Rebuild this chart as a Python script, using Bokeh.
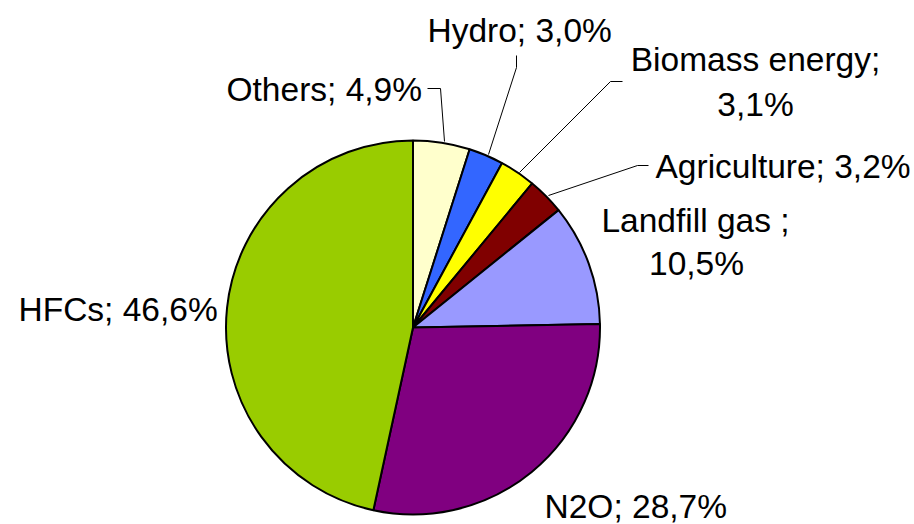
import numpy as np
from bokeh.plotting import figure
from bokeh.models import Range1d
from bokeh.core.properties import value
from bokeh.embed import file_html
from bokeh.resources import INLINE

# ---- data ----
categories = ["Others", "Hydro", "Biomass energy", "Agriculture", "Landfill gas ", "N2O", "HFCs"]
shares = [4.9, 3.0, 3.1, 3.2, 10.5, 28.7, 46.6]
colors = ["#FFFFCC", "#3366FF", "#FFFF00", "#800000", "#9999FF", "#800080", "#99CC00"]
label_texts = ["Others; 4,9%", "Hydro; 3,0%", "Biomass energy;\n3,1%", "Agriculture; 3,2%",
               "Landfill gas ;\n10,5%", "N2O; 28,7%", "HFCs; 46,6%"]

W, H = 914, 524


def Y(py):
    # page y (from top) -> data y (from bottom)
    return H - py


p = figure(width=W, height=H, output_backend="svg", toolbar_location=None,
           x_range=Range1d(0, W), y_range=Range1d(0, H),
           min_border=0, outline_line_color=None)
p.axis.visible = False
p.grid.visible = False
p.background_fill_color = "white"
p.border_fill_color = "white"

# ---- pie ----
cx, cy, r = 412.5, Y(327), 187
fr = np.array(shares) / sum(shares)
c1 = np.cumsum(fr)
c0 = c1 - fr
ang0 = np.pi / 2 - 2 * np.pi * c0
ang1 = np.pi / 2 - 2 * np.pi * c1
p.wedge(x=cx, y=cy, radius=r, start_angle=ang1, end_angle=ang0,
        fill_color=colors, line_color="black", line_width=2)

# ---- leader lines (page coordinates) ----
leaders = [
    ([427, 440, 444], [88, 88, 141]),          # Others
    ([516, 516, 488], [55, 67, 154]),          # Hydro
    ([622, 610, 519], [81, 81, 172]),          # Biomass
    ([648, 637, 548], [165, 165, 195]),        # Agriculture
]
for xs, ys in leaders:
    p.line(xs, [Y(v) for v in ys], line_color="black", line_width=1)

# ---- labels ----
font = value("Liberation Sans")
fs = "33.5px"
dy = 12  # baseline correction
lab = [
    (226, 101, "left", label_texts[0]),
    (427, 42, "left", label_texts[1]),
    (755, 71, "center", "Biomass energy;"),
    (755, 116, "center", "3,1%"),
    (655, 178, "left", label_texts[3]),
    (695, 232, "center", "Landfill gas ;"),
    (696, 275, "center", "10,5%"),
    (544, 518, "left", label_texts[5]),
    (18, 321, "left", label_texts[6]),
]
for lx, ly, al, t in lab:
    p.text(x=[lx], y=[Y(ly - dy)], text=[t], text_font=font, text_font_size=fs,
           text_align=al, text_baseline="alphabetic", text_color="black")

open("out.html", "w").write(file_html(p, INLINE))
